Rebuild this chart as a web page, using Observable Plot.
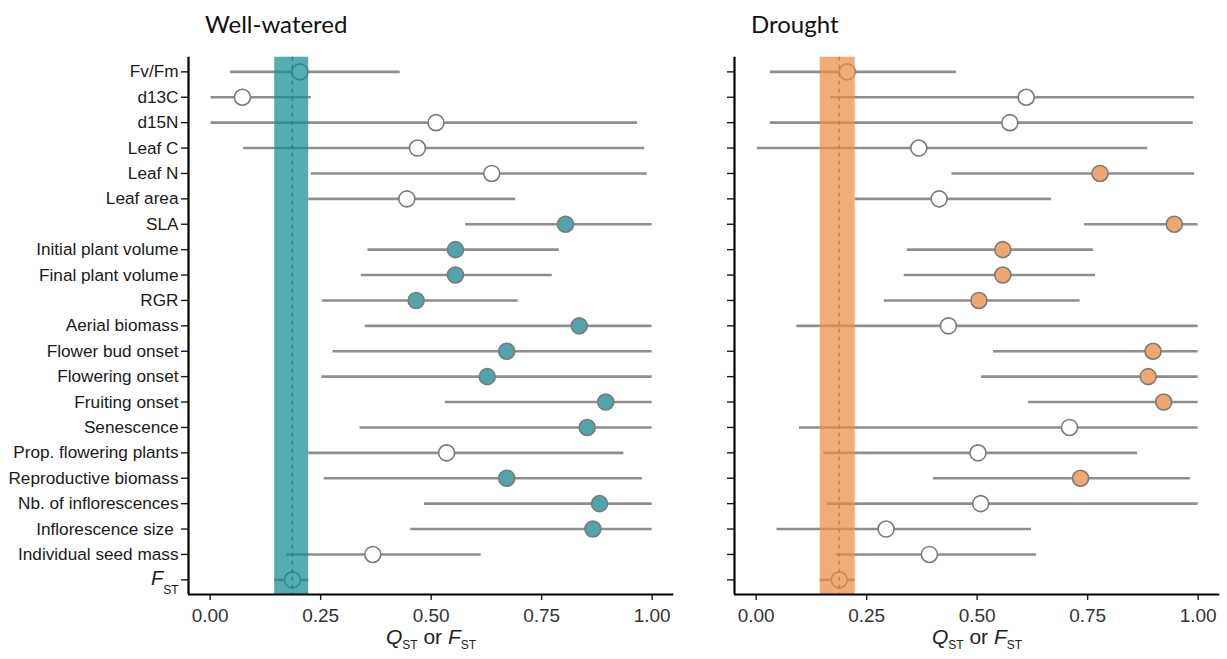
<!DOCTYPE html>
<html>
<head>
<meta charset="utf-8">
<script src="https://cdn.jsdelivr.net/npm/d3@7"></script>
<script src="https://cdn.jsdelivr.net/npm/@observablehq/plot@0.6"></script>
<style>
  html, body { margin: 0; padding: 0; background: #fff; }
  #wrap { position: relative; width: 1227px; height: 659px; overflow: hidden; font-family: "Liberation Sans", Arial, sans-serif; }
  .panel { position: absolute; top: 0; }
  .title { position: absolute; font-family: Lato, "Open Sans", sans-serif; font-size: 24px; color: #111; line-height: 1; white-space: nowrap; }
  .xlab { position: absolute; font-family: "Liberation Sans", Arial, sans-serif; font-size: 21px; color: #222; line-height: 1; white-space: nowrap; transform: translateX(-50%); }
  .xlab sub { font-size: 12px; vertical-align: -5px; line-height: 0; font-style: normal; margin-left: 0px; }
</style>
</head>
<body>
<div id="wrap">
  <div class="title" style="left:205px; top:12px;">Well-watered</div>
  <div class="title" style="left:751px; top:12px;">Drought</div>
  <div class="xlab" style="left:431px; top:626px;"><i>Q</i><sub>ST</sub> or <i>F</i><sub>ST</sub></div>
  <div class="xlab" style="left:977px; top:626px;"><i>Q</i><sub>ST</sub> or <i>F</i><sub>ST</sub></div>
</div>
<script>
// ---- data ----
const traits = ["Fv/Fm","d13C","d15N","Leaf C","Leaf N","Leaf area","SLA","Initial plant volume","Final plant volume","RGR","Aerial biomass","Flower bud onset","Flowering onset","Fruiting onset","Senescence","Prop. flowering plants","Reproductive biomass","Nb. of inflorescences","Inflorescence size ","Individual seed mass","FST"];

const wwEst = [0.203,0.073,0.511,0.469,0.637,0.445,0.804,0.555,0.555,0.466,0.835,0.671,0.627,0.895,0.853,0.535,0.671,0.881,0.866,0.368,0.186];
const wwLo  = [0.046,0.002,0.002,0.076,0.229,0.223,0.578,0.357,0.342,0.254,0.351,0.278,0.253,0.532,0.339,0.223,0.258,0.485,0.454,0.173,0.146];
const wwHi  = [0.430,0.229,0.967,0.983,0.989,0.691,1.000,0.790,0.774,0.697,1.000,1.000,1.000,1.000,1.000,0.936,0.978,1.000,1.000,0.613,0.223];
const wwSig = [0,0,0,0,0,0,1,1,1,1,1,1,1,1,1,0,1,1,1,0,0];

const drEst = [0.206,0.611,0.574,0.368,0.778,0.414,0.946,0.558,0.558,0.504,0.435,0.898,0.887,0.922,0.709,0.502,0.734,0.508,0.294,0.392,0.188];
const drLo  = [0.032,0.169,0.032,0.003,0.443,0.224,0.743,0.342,0.335,0.290,0.092,0.537,0.510,0.616,0.098,0.153,0.401,0.161,0.047,0.181,0.145];
const drHi  = [0.453,0.992,0.989,0.886,0.992,0.668,1.000,0.763,0.768,0.733,1.000,1.000,1.000,1.000,1.000,0.863,0.983,1.000,0.623,0.634,0.224];
const drSig = [0,0,0,0,1,0,1,1,1,1,0,1,1,1,0,0,1,0,0,0,0];

const xTicks = [0, 0.25, 0.5, 0.75, 1];

// ---- drawing ----
const n = traits.length;
const pad = 0.577;
const yDomain = [n - 1 + pad, -pad];
const xDomain = [-0.049, 1.049];

function panel({est, lo, hi, sig, bandFill, dotFill, dashColor, labels, width, marginLeft, marginRight}) {
  const rows = traits.map((t, i) => ({i, t, est: est[i], lo: lo[i], hi: hi[i], sig: sig[i]}));
  const fst = rows[n - 1];
  return Plot.plot({
    width, height: 659,
    marginLeft, marginRight, marginTop: 56.7, marginBottom: 65,
    style: {fontFamily: "'Liberation Sans', Arial, sans-serif", fontSize: "17.2px", color: "#1a1a1a", background: "transparent"},
    x: {domain: xDomain},
    y: {domain: yDomain},
    marks: [
      Plot.ruleY(rows, {y: "i", x1: "lo", x2: "hi", stroke: "#8e8e8e", strokeWidth: 2.6}),
      Plot.dot(rows, {x: "est", y: "i", r: 8, fill: d => d.sig ? dotFill : "white", stroke: "#7a7a7a", strokeWidth: 1.6}),
      Plot.rect([fst], {x1: "lo", x2: "hi", y1: () => yDomain[0], y2: () => yDomain[1], fill: bandFill, fillOpacity: 0.73}),
      Plot.ruleX([fst], {x: "est", stroke: dashColor, strokeWidth: 1.2, strokeDasharray: "4,4"}),
      Plot.axisX({ticks: xTicks, tickFormat: d3.format(".2f"), tickSize: 6, tickPadding: 8, fontSize: 19, label: null, strokeWidth: 1.4, fill: "#333"}),
      Plot.axisY({ticks: d3.range(n), tickFormat: labels ? (i => traits[i]) : (() => ""), tickSize: 7, tickPadding: 3, label: null, strokeWidth: 1.4}),
      Plot.ruleX([xDomain[0]], {stroke: "black", strokeWidth: 2.2}),
      Plot.ruleY([yDomain[0]], {stroke: "black", strokeWidth: 2.2})
    ]
  });
}

const left = panel({est: wwEst, lo: wwLo, hi: wwHi, sig: wwSig, bandFill: "#178d97", dotFill: "#50a5ac", dashColor: "#2b7a80", labels: true, width: 690, marginLeft: 188, marginRight: 16.7});
const right = panel({est: drEst, lo: drLo, hi: drHi, sig: drSig, bandFill: "#ed8d43", dotFill: "#f0a66c", dashColor: "#c77a42", labels: false, width: 527, marginLeft: 34, marginRight: 7.7});

const wrap = document.getElementById("wrap");
left.classList.add("panel"); left.style.left = "0px";
right.classList.add("panel"); right.style.left = "700px";
wrap.appendChild(left);
wrap.appendChild(right);

// subscript for the F_ST tick label
d3.select(left).selectAll("text").each(function() {
  if (this.textContent === "FST") {
    this.innerHTML = '<tspan font-style="italic" font-size="20">F</tspan><tspan font-size="12" dy="9">ST</tspan>';
  }
});
</script>
</body>
</html>
